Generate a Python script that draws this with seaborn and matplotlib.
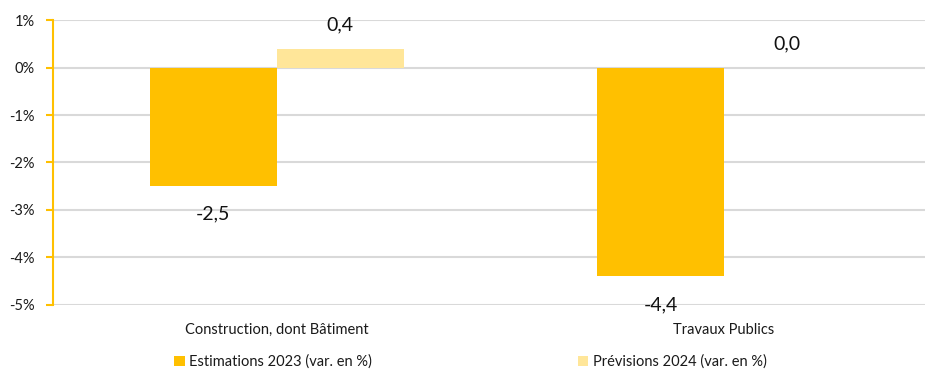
import matplotlib
matplotlib.use("Agg")
import matplotlib.pyplot as plt
import seaborn as sns
import pandas as pd
from matplotlib.ticker import FuncFormatter

categories = ["Construction, dont Bâtiment", "Travaux Publics"]
series_names = ["Estimations 2023 (var. en %)", "Prévisions 2024 (var. en %)"]
estimations_2023 = [-2.5, -4.4]
previsions_2024 = [0.4, 0.0]
y_ticks = [1, 0, -1, -2, -3, -4, -5]

colors = ["#FFC000", "#FFE699"]

df = pd.DataFrame({
    "categorie": categories * 2,
    "serie": [series_names[0]] * 2 + [series_names[1]] * 2,
    "valeur": estimations_2023 + previsions_2024,
})

sns.set_theme(style="white")
plt.rcParams["font.family"] = ["Lato", "DejaVu Sans"]

fig = plt.figure(figsize=(9.28, 3.71), dpi=100)
ax = fig.add_axes([0.057, 0.178, 0.94, 0.768])

sns.barplot(data=df, x="categorie", y="valeur", hue="serie", palette=colors,
            width=0.568, gap=0, saturation=1, ax=ax, legend=True, errorbar=None,
            linewidth=0)

ax.set_ylim(-5, 1)
ax.set_xlim(-0.5, 1.45)
ax.set_yticks(y_ticks)
ax.yaxis.set_major_formatter(FuncFormatter(lambda v, p: f"{int(round(v))}%"))
ax.grid(axis="y", color="#D9D9D9", linewidth=1.5)
ax.set_axisbelow(True)
for s in ["top", "right", "bottom"]:
    ax.spines[s].set_visible(False)
ax.spines["left"].set_color("#FFC000")
ax.spines["left"].set_linewidth(1.5)
ax.tick_params(axis="y", direction="out", length=5, width=1.5, color="#FFC000",
               labelsize=10.5, labelcolor="#1a1a1a", pad=8, left=True)
ax.tick_params(axis="x", length=0, labelsize=10.5, labelcolor="#1a1a1a", pad=13)
ax.set_xlabel("")
ax.set_ylabel("")

# value labels, French decimal comma
for container in ax.containers:
    for bar in container:
        h = bar.get_height()
        x = bar.get_x() + bar.get_width() / 2
        txt = f"{h:.1f}".replace(".", ",")
        if h < 0:
            ax.annotate(txt, (x, h), xytext=(0, -14), textcoords="offset points",
                        ha="center", va="top", fontsize=14, color="#111111")
        else:
            ax.annotate(txt, (x, h), xytext=(0, 11), textcoords="offset points",
                        ha="center", va="bottom", fontsize=14, color="#111111")

handles, labels = ax.get_legend_handles_labels()
ax.get_legend().remove()
fig.legend(handles, labels, loc="center", bbox_to_anchor=(0.507, 0.025), ncol=2,
           frameon=False, fontsize=10.5, handlelength=0.7, handleheight=0.7,
           handletextpad=0.3, columnspacing=14.15, labelcolor="#1a1a1a")

fig.savefig("out.png", dpi=100)
